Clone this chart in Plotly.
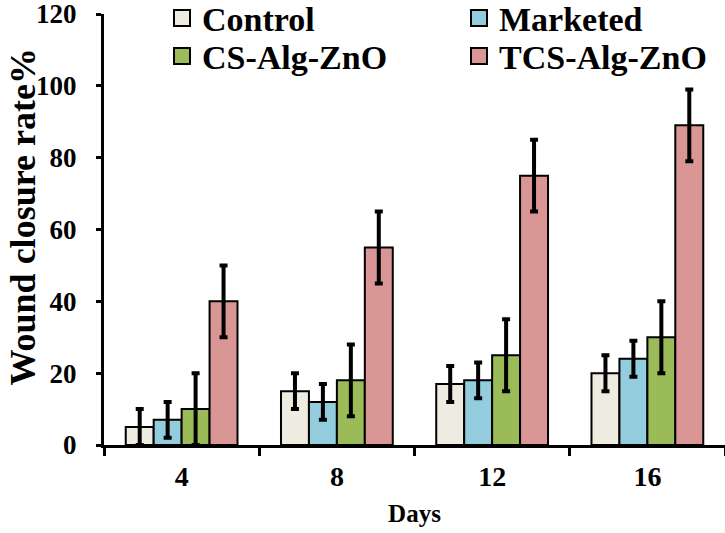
import plotly.graph_objects as go

days = ["4", "8", "12", "16"]
series_names = ["Control", "Marketed", "CS-Alg-ZnO", "TCS-Alg-ZnO"]
control = [5, 15, 17, 20]
marketed = [7, 12, 18, 24]
cs_alg_zno = [10, 18, 25, 30]
tcs_alg_zno = [40, 55, 75, 89]
control_err = [5, 5, 5, 5]
marketed_err = [5, 5, 5, 5]
cs_err = [10, 10, 10, 10]
tcs_err = [10, 10, 10, 10]
colors = ["#EEECE1", "#93CDDD", "#9BBB59", "#D99694"]
y_ticks = [0, 20, 40, 60, 80, 100, 120]

values = [control, marketed, cs_alg_zno, tcs_alg_zno]
errors = [control_err, marketed_err, cs_err, tcs_err]

FONT = "Liberation Serif"

fig = go.Figure()
for name, vals, errs, col in zip(series_names, values, errors, colors):
    fig.add_trace(go.Bar(
        x=days, y=vals, name=name, showlegend=False,
        marker=dict(color=col, line=dict(color="black", width=2)),
        error_y=dict(type="data", array=errs, visible=True,
                     color="black", thickness=4, width=4),
    ))

legend_ids = ["legend", "legend2", "legend3", "legend4"]
for name, col, lg in zip(series_names, colors, legend_ids):
    fig.add_trace(go.Scatter(
        x=[None], y=[None], mode="markers", name=name, legend=lg,
        marker=dict(symbol="square", size=17, color=col,
                    line=dict(color="black", width=2)),
    ))

legend_font = dict(family=FONT, size=34, color="black", weight="bold")
col_x = [0.0934, 0.5717, 0.0934, 0.5717]
row_y = [1.057, 1.057, 0.969, 0.969]
legend_layouts = {}
for lg, lx, ly in zip(legend_ids, col_x, row_y):
    legend_layouts[lg] = dict(x=lx, xanchor="left", y=ly, yanchor="top",
                              font=legend_font, bgcolor="rgba(0,0,0,0)",
                              itemsizing="trace")

fig.update_layout(
    width=725, height=533,
    margin=dict(l=104, r=0, t=14, b=88, autoexpand=False),
    paper_bgcolor="white", plot_bgcolor="white",
    barmode="group", bargap=0.28, bargroupgap=0,
    font=dict(family=FONT, color="black"),
    xaxis=dict(
        type="category", showline=True, linecolor="black", linewidth=3,
        ticks="outside", tickson="boundaries", ticklen=8, tickwidth=3,
        tickcolor="black", showgrid=False, zeroline=False,
        tickfont=dict(family=FONT, size=28, color="black", weight="bold"),
        ticklabelstandoff=4,
        title=dict(text="Days", standoff=14,
                   font=dict(family=FONT, size=25, color="black", weight="bold")),
    ),
    yaxis=dict(
        range=[0, 120], tickvals=y_ticks, showline=True, linecolor="black",
        linewidth=3, ticks="outside", ticklen=5, tickwidth=3,
        tickcolor="black", showgrid=False, zeroline=False,
        tickfont=dict(family=FONT, size=27, color="black", weight="bold"),
        ticklabelstandoff=14, ticklabeloverflow="allow",
    ),
    annotations=[dict(
        text="Wound closure rate%", textangle=-90, showarrow=False,
        xref="paper", yref="paper", x=(23 - 104) / 621, y=0.528,
        xanchor="center", yanchor="middle",
        font=dict(family=FONT, size=36, color="black", weight="bold"),
    )],
    **legend_layouts,
)

fig.write_html("out.html", config={"displayModeBar": False},
               post_script="document.body.style.margin='0';")
